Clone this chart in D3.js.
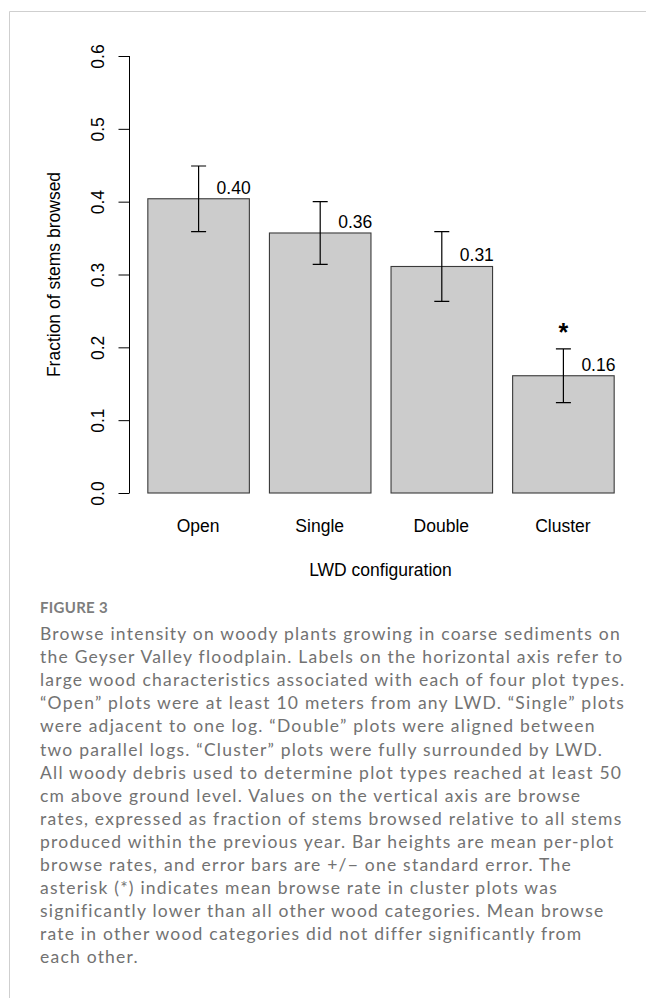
<!DOCTYPE html>
<html>
<head>
<meta charset="utf-8">
<script src="https://cdn.jsdelivr.net/npm/d3@7.9.0/dist/d3.min.js"></script>
<style>
  html, body { margin: 0; padding: 0; background: #fff; }
  svg { display: block; }
</style>
</head>
<body>
<div id="chart"></div>
<script>
/* ---------- data --------- */
const categories = ['Open', 'Single', 'Double', 'Cluster'];
const meanBrowse = [0.404, 0.357, 0.311, 0.161];
const stdErr     = [0.045, 0.043, 0.048, 0.037];
const valueLabels = ['0.40', '0.36', '0.31', '0.16'];
const yTicks = [0, 0.1, 0.2, 0.3, 0.4, 0.5, 0.6];
const starred = ['Cluster'];

const captionHead = 'FIGURE 3';
const captionLines = [
  'Browse intensity on woody plants growing in coarse sediments on',
  'the Geyser Valley floodplain. Labels on the horizontal axis refer to',
  'large wood characteristics associated with each of four plot types.',
  '\u201cOpen\u201d plots were at least 10 meters from any LWD. \u201cSingle\u201d plots',
  'were adjacent to one log. \u201cDouble\u201d plots were aligned between',
  'two parallel logs. \u201cCluster\u201d plots were fully surrounded by LWD.',
  'All woody debris used to determine plot types reached at least 50',
  'cm above ground level. Values on the vertical axis are browse',
  'rates, expressed as fraction of stems browsed relative to all stems',
  'produced within the previous year. Bar heights are mean per-plot',
  'browse rates, and error bars are +/\u2212 one standard error. The',
  'asterisk (*) indicates mean browse rate in cluster plots was',
  'significantly lower than all other wood categories. Mean browse',
  'rate in other wood categories did not differ significantly from',
  'each other.'
];

/* ---------- layout --------- */
const W = 646, H = 998;
const plotFont = '"Liberation Sans", Arial, Helvetica, sans-serif';
const capFont = 'Lato, "Open Sans", sans-serif';
const FS = 17.5;

const rows = categories.map((c, i) => ({
  cat: c, mean: meanBrowse[i], se: stdErr[i], label: valueLabels[i]
}));

const svg = d3.select('#chart').append('svg')
  .attr('width', W).attr('height', H)
  .attr('viewBox', `0 0 ${W} ${H}`);

// panel frame (top + left rule)
svg.append('path')
  .attr('d', `M9.5,${H} V11.5 H${W}`)
  .attr('fill', 'none')
  .attr('stroke', '#cfcfcf')
  .attr('stroke-width', 1);

/* ---------- scales --------- */
const x = d3.scaleBand()
  .domain(categories)
  .range([137.3, 623.7])
  .paddingInner(0.165)
  .paddingOuter(0.0825);

const y = d3.scaleLinear().domain([0, 0.6]).range([493, 56]);

/* ---------- y axis (R style) --------- */
const yAxis = svg.append('g')
  .attr('transform', 'translate(129.5,0)')
  .attr('font-size', null).attr('font-family', null)
  .call(d3.axisLeft(y).tickValues(yTicks).tickSize(11).tickPadding(0).tickFormat(d3.format('.1f')));

yAxis.attr('font-size', null).attr('font-family', null);
yAxis.select('.domain').attr('d', `M0,${y(0)}V${y(0.6)}`).attr('stroke', '#000');
yAxis.selectAll('.tick line').attr('stroke', '#000');
yAxis.selectAll('.tick text')
  .attr('x', null).attr('dy', null)
  .attr('transform', 'translate(-26,0) rotate(-90)')
  .attr('text-anchor', 'middle')
  .style('font-family', plotFont)
  .style('font-size', FS + 'px')
  .attr('fill', '#000');

svg.append('text')
  .attr('transform', `translate(60,${(y(0) + y(0.6)) / 2}) rotate(-90)`)
  .attr('text-anchor', 'middle')
  .style('font-family', plotFont)
  .style('font-size', FS + 'px')
  .text('Fraction of stems browsed');

/* ---------- bars --------- */
svg.append('g').selectAll('rect')
  .data(rows).join('rect')
  .attr('x', d => x(d.cat) + 0.5)
  .attr('y', d => y(d.mean))
  .attr('width', x.bandwidth())
  .attr('height', d => y(0) - y(d.mean))
  .attr('fill', '#cccccc')
  .attr('stroke', '#3a3a3a')
  .attr('stroke-width', 1.1);

/* ---------- error bars --------- */
const cx = d => x(d.cat) + x.bandwidth() / 2 + 0.5;
const capW = 7.5;
const err = svg.append('g').attr('stroke', '#000').attr('stroke-width', 1.2).attr('fill', 'none');
err.selectAll('path')
  .data(rows).join('path')
  .attr('d', d => {
    const top = y(d.mean + d.se), bot = y(d.mean - d.se), c = cx(d);
    return `M${c},${top}V${bot}M${c - capW},${top}H${c + capW}M${c - capW},${bot}H${c + capW}`;
  });

/* ---------- value labels + significance --------- */
svg.append('g').selectAll('text')
  .data(rows).join('text')
  .attr('x', d => cx(d) + 18)
  .attr('y', d => y(d.mean) - 5)
  .style('font-family', plotFont)
  .style('font-size', FS + 'px')
  .text(d => d.label);

svg.append('g').selectAll('text')
  .data(rows.filter(d => starred.includes(d.cat))).join('text')
  .attr('x', d => cx(d))
  .attr('y', d => y(d.mean + d.se) - 8)
  .attr('text-anchor', 'middle')
  .style('font-family', plotFont)
  .style('font-size', '25px')
  .style('font-weight', 'bold')
  .text('*');

/* ---------- x labels --------- */
svg.append('g').selectAll('text')
  .data(categories).join('text')
  .attr('x', d => x(d) + x.bandwidth() / 2)
  .attr('y', 532)
  .attr('text-anchor', 'middle')
  .style('font-family', plotFont)
  .style('font-size', FS + 'px')
  .text(d => d);

svg.append('text')
  .attr('x', (x.range()[0] + x.range()[1]) / 2)
  .attr('y', 575.5)
  .attr('text-anchor', 'middle')
  .style('font-family', plotFont)
  .style('font-size', FS + 'px')
  .text('LWD configuration');

/* ---------- caption --------- */
const capX = 40;
svg.append('text')
  .attr('x', capX).attr('y', 613)
  .style('font-family', capFont)
  .style('font-size', '15px')
  .style('font-weight', 700)
  .style('letter-spacing', '0.3px')
  .attr('fill', '#7d7d7d')
  .text(captionHead);

const capFS = 17.5;
const cap = svg.append('g')
  .style('font-family', capFont)
  .style('font-size', capFS + 'px')
  .attr('fill', '#727272');

const capLines = cap.selectAll('text')
  .data(captionLines).join('text')
  .attr('x', capX)
  .attr('y', (d, i) => 640 + i * 23.1)
  .text(d => d);

// track the caption so the first line spans like the original (~581px)
const w0 = capLines.node().getComputedTextLength();
const ls = (581 - w0) / captionLines[0].length;
cap.style('letter-spacing', ls.toFixed(3) + 'px');
</script>
</body>
</html>
